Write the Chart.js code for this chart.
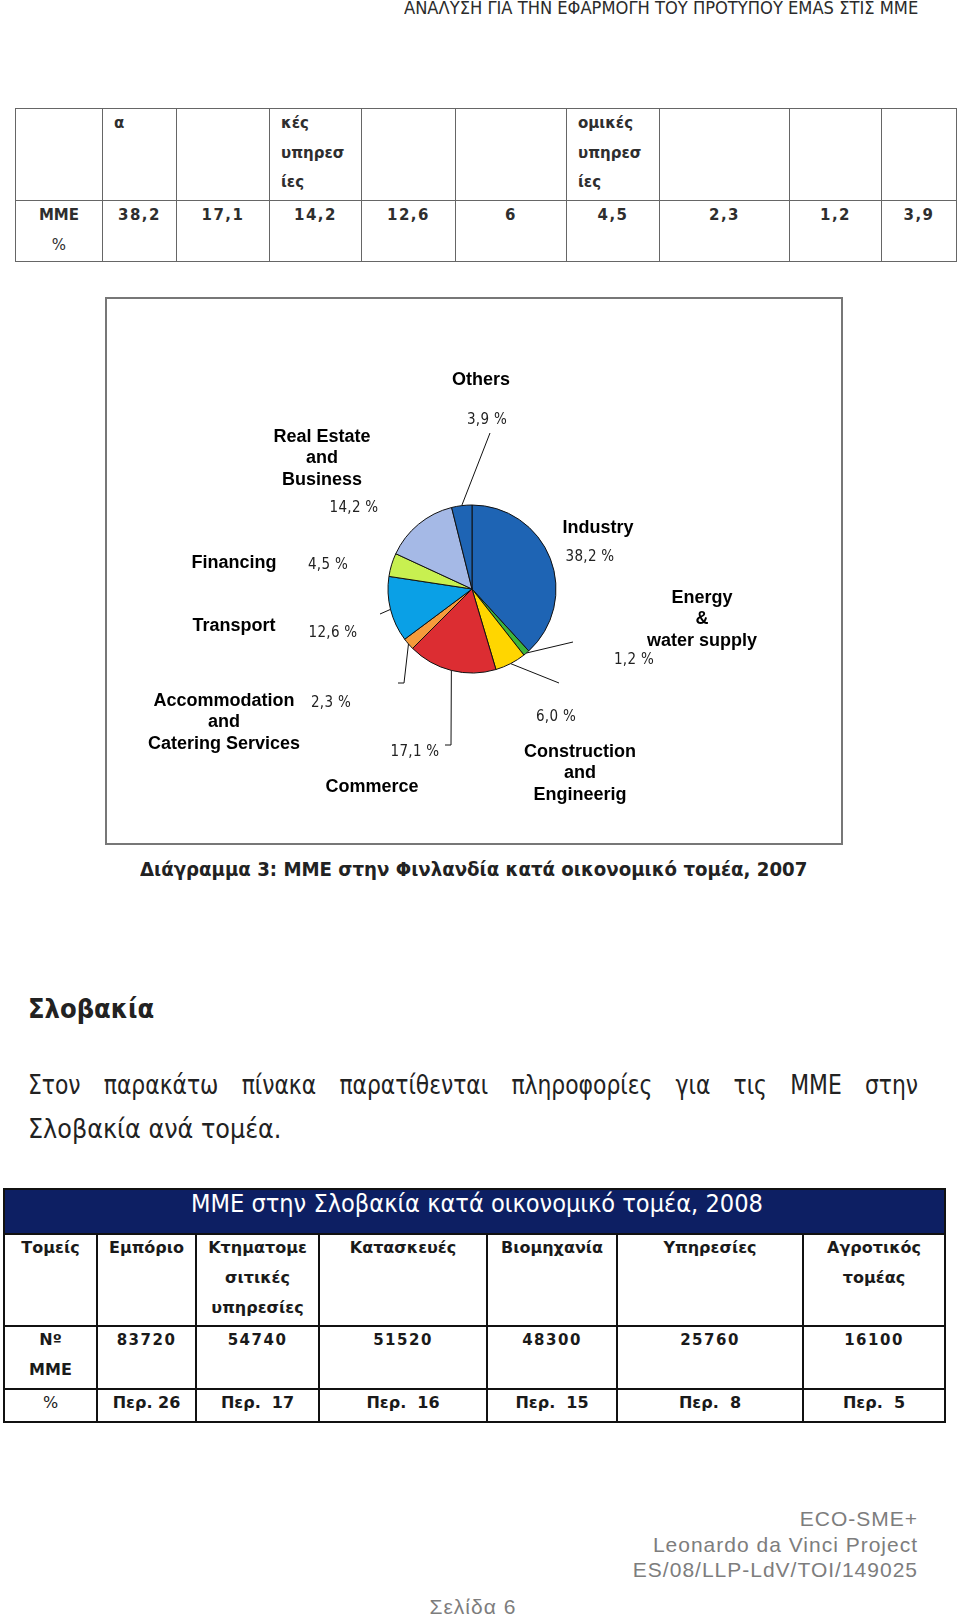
<!DOCTYPE html>
<html>
<head>
<meta charset="utf-8">
<script src="https://cdn.jsdelivr.net/npm/chart.js@4.4.1/dist/chart.umd.min.js"></script>
<style>
  html, body { margin: 0; padding: 0; background: #fff; }
  #page { position: relative; width: 960px; height: 1618px; overflow: hidden; font-family: "DejaVu Sans", sans-serif; color: #222; }
  .abs { position: absolute; white-space: nowrap; }
  .cond { font-family: "DejaVu Sans Condensed", "DejaVu Sans", sans-serif; }
  #runhead { top: -1px; font: 18px/18px "Liberation Sans Narrow", "DejaVu Sans Condensed", sans-serif; color: #2b2b2b; }
  #box { position: absolute; left: 105px; top: 297px; width: 738px; height: 548px; box-sizing: border-box; border: 2px solid #777; }
  #pieWrap { position: absolute; left: 106px; top: 298px; width: 735px; height: 545px; }
  table { position: absolute; border-collapse: collapse; table-layout: fixed; }
  td { padding: 0; vertical-align: top; white-space: pre; }
  td > div { margin-top: -2px; }
  #t1 { left: 15px; top: 108px; width: 941px; font: bold 15px "DejaVu Sans", sans-serif; color: #2e2e2e; }
  #t1 td { border: 1.5px solid #666; line-height: 29.5px; }
  #t1 td.h { padding-left: 11px; }
  #t1 td.v { text-align: center; letter-spacing: 1.5px; }
  #t2 { left: 3px; top: 1188px; width: 941px; font: bold 16px "DejaVu Sans", sans-serif; color: #1a1a1a; }
  #t2 td { border: 2px solid #111; line-height: 30px; text-align: center; }
  #t2 td.n { font-size: 15px; letter-spacing: 1.5px; }
  .reg { font-weight: normal; }
  .foot { font: 21px/24px "Liberation Sans", Arial, sans-serif; color: #7d7d7d; letter-spacing: 1px; }
</style>
</head>
<body>
<div id="page">
  <div class="abs fit" id="runhead" data-x="404" data-a="l" data-w="514">ΑΝΑΛΥΣΗ ΓΙΑ ΤΗΝ ΕΦΑΡΜΟΓΗ ΤΟΥ ΠΡΟΤΥΠΟΥ EMAS ΣΤΙΣ ΜΜΕ</div>

  <table id="t1"></table>

  <div id="box"></div>
  <div id="pieWrap"><canvas id="pie"></canvas></div>

  <div class="abs fit cond" data-x="140" data-a="l" data-w="667" style="top:857px; font-weight:bold; font-size:19px; line-height:24px; color:#222;">Διάγραμμα 3: ΜΜΕ στην Φινλανδία κατά οικονομικό τομέα, 2007</div>

  <div class="abs fit cond" data-x="28" data-a="l" data-w="126" style="top:993px; font-weight:bold; font-size:27px; line-height:32px; color:#222;">Σλοβακία</div>

  <div class="abs cond" id="para1" style="left:28px; top:1068px; width:989px; font-size:27px; line-height:34px; display:flex; justify-content:space-between; transform-origin:left center; transform:scaleX(0.9); color:#222;"></div>
  <div class="abs fit cond" data-x="28" data-a="l" data-w="253" style="top:1112px; font-size:27px; line-height:34px; color:#222;">Σλοβακία ανά τομέα.</div>

  <table id="t2"></table>
  <div class="abs fit cond" data-x="191" data-a="l" data-w="572" style="top:1189px; font-size:24px; line-height:30px; color:#fff;">ΜΜΕ στην Σλοβακία κατά οικονομικό τομέα, 2008</div>

  <div class="abs foot" style="right:42px; top:1507px;">ECO-SME+</div>
  <div class="abs foot" style="right:42px; top:1533px;">Leonardo da Vinci Project</div>
  <div class="abs foot" style="right:42px; top:1558px;">ES/08/LLP-LdV/TOI/149025</div>
  <div class="abs foot fit" data-x="473" data-a="c" data-w="87" style="top:1595px;">Σελίδα 6</div>
</div>

<script>
// Finland 2007: SMEs by sector (%)
const categories = [
    ['Industry'],
    ['Energy', '&', 'water supply'],
    ['Construction', 'and', 'Engineerig'],
    ['Commerce'],
    ['Accommodation', 'and', 'Catering Services'],
    ['Transport'],
    ['Financing'],
    ['Real Estate', 'and', 'Business'],
    ['Others']
];
const shares = [38.2, 1.2, 6.0, 17.1, 2.3, 12.6, 4.5, 14.2, 3.9];

// the cut table above the chart (same figures, other order)
const finHead = ['', 'α', '', 'κές\nυπηρεσ\nίες', '', '', 'ομικές\nυπηρεσ\nίες', '', '', ''];
const finRow = ['38,2', '17,1', '14,2', '12,6', '6', '4,5', '2,3', '1,2', '3,9'];

// Slovakia 2008
const skSectors = ['Εμπόριο', 'Κτηματομε\nσιτικές\nυπηρεσίες', 'Κατασκευές', 'Βιομηχανία', 'Υπηρεσίες', 'Αγροτικός\nτομέας'];
const skCounts = ['83720', '54740', '51520', '48300', '25760', '16100'];
const skShares = ['Περ. 26', 'Περ.  17', 'Περ.  16', 'Περ.  15', 'Περ.  8', 'Περ.  5'];

const paraLine = 'Στον παρακάτω πίνακα παρατίθενται πληροφορίες για τις ΜΜΕ στην';

// styling
const sliceColors = ['#1e64b4', '#3cb43c', '#ffd600', '#dc2d32', '#f59b3c', '#0aa0e6', '#c8f050', '#a5b9e6', '#1e64b4'];

// label layout in canvas px: name anchor, pct anchor, leader bend points
const labelLayout = [
    { nx: 492, ny: 230, px: 484, py: 259, lead: null },
    { nx: 596, ny: 300, px: 528, py: 362, lead: [[467, 344]] },
    { nx: 474, ny: 454, px: 450, py: 419, lead: [[453, 385]] },
    { nx: 266, ny: 489, px: 309, py: 454, lead: [[345, 447], [339, 447]] },
    { nx: 118, ny: 403, px: 225, py: 405, lead: [[298, 385], [292, 385]] },
    { nx: 128, ny: 328, px: 227, py: 335, lead: [[274, 316]] },
    { nx: 128, ny: 265, px: 222, py: 267, lead: null },
    { nx: 216, ny: 139, px: 248, py: 210, lead: null },
    { nx: 375, ny: 82, px: 381, py: 122, lead: [[384, 135]] }
];

function pctText(v) {
    return v.toFixed(1).replace('.', ',') + ' %';
}

const sliceLabels = {
    id: 'sliceLabels',
    afterDatasetsDraw(chart) {
        const ctx = chart.ctx;
        const arcs = chart.getDatasetMeta(0).data;
        ctx.save();
        ctx.strokeStyle = '#111';
        ctx.lineWidth = 1;
        ctx.textAlign = 'center';
        ctx.textBaseline = 'middle';
        arcs.forEach((arc, i) => {
            const lay = labelLayout[i];
            const mid = (arc.startAngle + arc.endAngle) / 2;
            if (lay.lead) {
                ctx.beginPath();
                ctx.moveTo(arc.x + Math.cos(mid) * arc.outerRadius, arc.y + Math.sin(mid) * arc.outerRadius);
                lay.lead.forEach(p => ctx.lineTo(p[0], p[1]));
                ctx.stroke();
            }
            ctx.fillStyle = '#000';
            ctx.font = 'bold 18px "Liberation Sans", Arial, sans-serif';
            categories[i].forEach((t, k) => ctx.fillText(t, lay.nx, lay.ny + k * 21.5));
            ctx.fillStyle = '#222';
            ctx.font = '15px "Liberation Sans Narrow", "DejaVu Sans Condensed", sans-serif';
            if ('letterSpacing' in ctx) ctx.letterSpacing = '0.3px';
            ctx.fillText(pctText(shares[i]), lay.px, lay.py);
            if ('letterSpacing' in ctx) ctx.letterSpacing = '0px';
        });
        ctx.restore();
    }
};

new Chart(document.getElementById('pie'), {
    type: 'pie',
    data: {
        labels: categories,
        datasets: [{
            data: shares,
            backgroundColor: sliceColors,
            borderColor: '#111',
            borderWidth: 1,
            radius: 84
        }]
    },
    options: {
        responsive: true,
        maintainAspectRatio: false,
        animation: false,
        layout: { padding: { top: 37, bottom: 0, left: 0, right: 3 } },
        plugins: { legend: { display: false }, tooltip: { enabled: false } }
    },
    plugins: [sliceLabels]
});

// tables
function cellHtml(s) {
    return s.replace(/&/g, '&amp;').replace(/</g, '&lt;').replace(/\n/g, '<br>');
}

const t1 = document.getElementById('t1');
const t1Widths = [87, 74, 93, 92, 94, 111, 93, 130, 92, 75];
let html = '<colgroup>' + t1Widths.map(w => `<col style="width:${w}px">`).join('') + '</colgroup>';
html += '<tr style="height:92px">' + finHead.map(s => `<td class="h">${cellHtml(s)}</td>`).join('') + '</tr>';
html += '<tr style="height:61px"><td style="text-align:center">MME<br><span class="reg">%</span></td>' +
    finRow.map(s => `<td class="v">${s}</td>`).join('') + '</tr>';
t1.innerHTML = html;

const t2 = document.getElementById('t2');
const t2Widths = [93, 99, 123, 168, 130, 186, 142];
html = '<colgroup>' + t2Widths.map(w => `<col style="width:${w}px">`).join('') + '</colgroup>';
html += '<tr style="height:45px"><td colspan="7" style="background:#0d1f63"></td></tr>';
html += '<tr style="height:92px"><td><div>Τομείς</div></td>' + skSectors.map(s => `<td><div>${cellHtml(s)}</div></td>`).join('') + '</tr>';
html += '<tr style="height:63px"><td><div>Nº<br>MME</div></td>' + skCounts.map(s => `<td class="n"><div>${s}</div></td>`).join('') + '</tr>';
html += '<tr style="height:33px"><td class="reg" style="line-height:26px">%</td>' + skShares.map(s => `<td style="line-height:26px">${s}</td>`).join('') + '</tr>';
t2.innerHTML = html;

// paragraph first line, justified word by word
document.getElementById('para1').innerHTML = paraLine.split(' ').map(w => `<span>${w}</span>`).join('');

// squeeze text blocks to the widths seen in the page
document.querySelectorAll('.fit').forEach(el => {
    const natural = el.offsetWidth;
    const w = +el.dataset.w;
    const x = +el.dataset.x;
    const left = el.dataset.a === 'c' ? x - w / 2 : el.dataset.a === 'r' ? x - w : x;
    el.style.left = left + 'px';
    el.style.transformOrigin = 'left center';
    el.style.transform = `scaleX(${w / natural})`;
});
</script>
</body>
</html>
